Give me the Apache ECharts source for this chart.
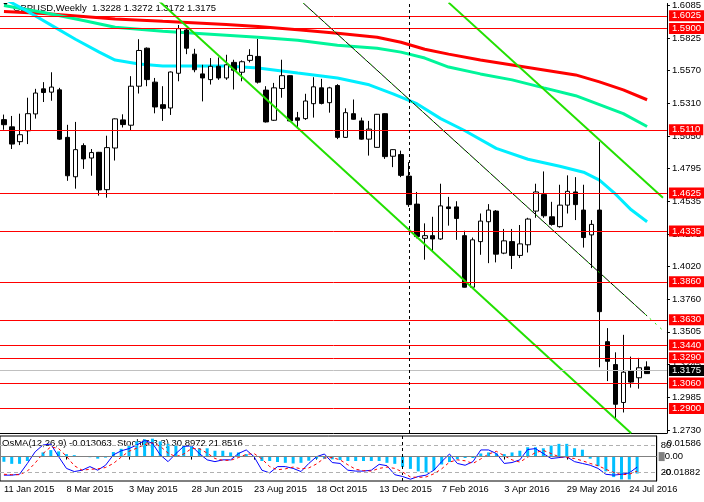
<!DOCTYPE html>
<html><head><meta charset="utf-8">
<script src="https://cdn.jsdelivr.net/npm/echarts@6/dist/echarts.min.js"></script>
<style>html,body{margin:0;padding:0;background:#fff}#c{width:704px;height:502px}</style>
</head><body><div id="c"></div>
<script>
const FONT = 'Liberation Sans';
// weekly categories (84 slots, 82 candles)
const MON = ['Jan','Feb','Mar','Apr','May','Jun','Jul','Aug','Sep','Oct','Nov','Dec'];
const categories = [];
for (let i = 0; i < 84; i++) {
  const d = new Date(Date.UTC(2015, 0, 11) + i * 7 * 86400000);
  categories.push(d.getUTCDate() + ' ' + MON[d.getUTCMonth()] + ' ' + d.getUTCFullYear());
}
const xTickLabels = ['11 Jan 2015','8 Mar 2015','3 May 2015','28 Jun 2015','23 Aug 2015','18 Oct 2015','13 Dec 2015','7 Feb 2016','3 Apr 2016','29 May 2016','24 Jul 2016'];
const yTicks = [1.2730,1.2985,1.3245,1.3505,1.3760,1.4020,1.4275,1.4535,1.4795,1.5050,1.5310,1.5570,1.5825,1.6085];

const opens = [1.5180,1.5123,1.5006,1.5092,1.5225,1.5423,1.5397,1.5415,1.5040,1.4729,
1.4975,1.4877,1.4922,1.4627,1.4956,1.5178,1.5136,1.5444,1.5744,1.5476,
1.5298,1.5272,1.5546,1.5888,1.5697,1.5541,1.5496,1.5601,1.5509,1.5632,
1.5554,1.5648,1.5679,1.5413,1.5175,1.5426,1.5527,1.5194,1.5188,1.5306,
1.5431,1.5314,1.5449,1.5040,1.5227,1.5170,1.5026,1.4961,1.5227,1.4891,
1.4904,1.4734,1.4513,1.4243,1.4264,1.4238,1.4491,1.4491,1.4264,1.3857,
1.4217,1.4374,1.4458,1.4126,1.4217,1.4108,1.4192,1.4458,1.4588,1.4413,
1.4335,1.4505,1.4609,1.4466,1.4270,1.4466,1.3427,1.3246,1.2947,1.3199,
1.3142,1.3228];
const highs = [1.5220,1.5209,1.5227,1.5353,1.5423,1.5476,1.5554,1.5431,1.5139,1.5162,
1.4993,1.4948,1.4925,1.5053,1.5190,1.5222,1.5523,1.5815,1.5750,1.5509,
1.5444,1.5560,1.5927,1.5901,1.5739,1.5613,1.5666,1.5671,1.5692,1.5653,
1.5648,1.5736,1.5817,1.5444,1.5470,1.5653,1.5530,1.5241,1.5384,1.5515,
1.5502,1.5439,1.5460,1.5269,1.5339,1.5196,1.5170,1.5225,1.5230,1.4946,
1.4935,1.4844,1.4609,1.4361,1.4413,1.4674,1.4570,1.4536,1.4303,1.4249,
1.4439,1.4513,1.4466,1.4317,1.4317,1.4348,1.4405,1.4674,1.4771,1.4531,
1.4666,1.4740,1.4726,1.4666,1.4387,1.5006,1.3534,1.3343,1.3481,1.3309,
1.3299,1.3272];
const lows = [1.5100,1.4948,1.4979,1.4987,1.5188,1.5319,1.5329,1.5020,1.4697,1.4635,
1.4791,1.4737,1.4580,1.4564,1.4857,1.5118,1.5092,1.5386,1.5444,1.5230,
1.5170,1.5217,1.5483,1.5697,1.5554,1.5324,1.5457,1.5494,1.5494,1.5418,
1.5483,1.5632,1.5465,1.5157,1.5170,1.5353,1.5165,1.5118,1.5178,1.5196,
1.5300,1.5235,1.5026,1.5036,1.5180,1.5022,1.4896,1.4958,1.4870,1.4805,
1.4726,1.4491,1.4243,1.4074,1.4139,1.4231,1.4343,1.4231,1.3855,1.3850,
1.4113,1.4047,1.4053,1.4118,1.4001,1.4087,1.4131,1.4405,1.4405,1.4343,
1.4327,1.4439,1.4387,1.4170,1.4008,1.3225,1.3116,1.2813,1.2868,1.3064,
1.3056,1.3172];
const closes = [1.5140,1.4987,1.5061,1.5227,1.5390,1.5394,1.5437,1.5026,1.4737,1.4943,
1.4870,1.4920,1.4625,1.4959,1.5186,1.5141,1.5444,1.5726,1.5496,1.5280,
1.5269,1.5556,1.5898,1.5744,1.5574,1.5509,1.5601,1.5509,1.5613,1.5570,
1.5637,1.5687,1.5476,1.5162,1.5431,1.5527,1.5170,1.5175,1.5327,1.5439,
1.5308,1.5431,1.5040,1.5235,1.5183,1.5026,1.5105,1.5222,1.4888,1.4943,
1.4740,1.4509,1.4257,1.4264,1.4238,1.4499,1.4478,1.4400,1.3857,1.4231,
1.4379,1.4466,1.4118,1.4223,1.4108,1.4199,1.4395,1.4609,1.4421,1.4353,
1.4505,1.4614,1.4509,1.4249,1.4353,1.3664,1.3272,1.2933,1.3186,1.3108,
1.3221,1.3175];

// moving averages [weekIndex, price]
const redMA = [[0,1.6034],[5,1.6018],[10,1.5995],[14,1.5975],[20,1.5956],[28,1.5932],[32,1.5916],[37,1.5889],[42,1.5862],[47,1.5830],[50,1.5791],[53,1.5736],[56,1.5697],[60,1.5650],[64,1.5611],[68,1.5572],[72,1.5533],[75,1.5478],[78,1.5415],[81,1.5337]];
const greenMA = [[0,1.6081],[5,1.6026],[10,1.5963],[14,1.5909],[20,1.5877],[28,1.5846],[32,1.5830],[37,1.5807],[42,1.5768],[47,1.5744],[50,1.5713],[53,1.5666],[56,1.5595],[60,1.5541],[64,1.5494],[68,1.5431],[72,1.5369],[75,1.5298],[78,1.5227],[81,1.5126]];
const cyanMA = [[0,1.6136],[3,1.6034],[6,1.5924],[9,1.5815],[12,1.5713],[14,1.5650],[17,1.5619],[20,1.5603],[25,1.5603],[28,1.5603],[32,1.5588],[37,1.5548],[42,1.5509],[46,1.5455],[49,1.5384],[52,1.5306],[55,1.5188],[58,1.5094],[62,1.4953],[66,1.4867],[70,1.4812],[73,1.4765],[75,1.4703],[77,1.4593],[79,1.4468],[81,1.4374]];

// trend lines
const lowerChannel = [[19,1.6147],[79,1.2704]];
const upperChannel = [[56,1.6104],[83,1.4564]];
const blackTrend = [[37,1.6140],[81,1.3630]];
const dottedTrend = [[37,1.6140],[83,1.3516]];

const levels = [1.6025,1.5900,1.5110,1.4625,1.4335,1.3860,1.3630,1.3440,1.3290,1.3060,1.2900];
const lastPrice = 1.3175;
const separatorIndex = 51;

const osma = [-0.0040,-0.0056,-0.0056,-0.0034,0.0003,0.0032,0.0050,0.0040,0.0019,0.0011,
-0.0003,-0.0005,-0.0016,-0.0008,0.0035,0.0060,0.0090,0.0117,0.0133,0.0138,
0.0117,0.0098,0.0090,0.0085,0.0077,0.0064,0.0064,0.0045,0.0045,0.0032,
0.0032,0.0019,0.0000,-0.0034,-0.0034,-0.0042,-0.0048,-0.0053,-0.0048,-0.0032,
-0.0016,-0.0016,-0.0021,-0.0027,-0.0034,-0.0034,-0.0034,-0.0034,-0.0034,-0.0048,
-0.0056,-0.0080,-0.0095,-0.0114,-0.0122,-0.0106,-0.0061,-0.0042,-0.0021,-0.0011,
-0.0011,0.0024,0.0032,0.0024,0.0019,0.0032,0.0045,0.0072,0.0072,0.0064,
0.0085,0.0098,0.0098,0.0064,0.0053,-0.0016,-0.0074,-0.0114,-0.0158,-0.0176,
-0.0176,-0.013063];
const stochMain = [13,13,15,39,65,80,82,54,28,21,
24,32,24,35,58,67,72,80,90,84,
58,43,61,77,78,61,47,43,47,47,
61,69,54,24,18,32,32,28,21,39,
54,60,41,39,24,22,22,24,37,34,
14,10,4,10,13,24,43,60,39,35,
43,69,69,61,39,41,47,70,72,61,
50,52,54,43,39,35,28,15,13,15,
18,30.8972];
const stochSignal = [15,14,14,22,40,61,76,72,55,34,
24,26,27,30,39,53,66,73,81,85,
77,62,54,60,72,72,62,50,46,46,
52,59,61,49,32,25,27,31,27,29,
38,51,52,47,36,26,23,22,28,31,
28,20,9,8,9,16,27,42,47,45,
39,49,60,66,56,47,42,53,63,68,
61,54,52,50,45,39,34,26,19,14,
15,21.8516];
const osmaLabels = {top: 0.01586, bottom: -0.01882};

const candleData = opens.map((o, i) => [o, closes[i], lows[i], highs[i]]);

const chart = echarts.init(document.getElementById('c'), null, {renderer: 'canvas'});
const fs = 9.5;
const tickShown = (idx) => idx % 8 === 0 && idx / 8 < xTickLabels.length;

const levelMarks = levels.map(v => ({
  yAxis: v,
  lineStyle: {color: '#ff0000', width: 1, type: 'solid'},
  label: {show: true, position: 'end', distance: 2, formatter: () => v.toFixed(4),
    backgroundColor: '#ff0000', color: '#ffffff', fontSize: fs, fontFamily: FONT,
    padding: [1, 3, 0, 3], lineHeight: 10}
}));
levelMarks.push({
  yAxis: lastPrice,
  lineStyle: {color: '#c0c0c0', width: 1, type: 'solid'},
  label: {show: true, position: 'end', distance: 2, formatter: () => lastPrice.toFixed(4),
    backgroundColor: '#000000', color: '#ffffff', fontSize: fs, fontFamily: FONT,
    padding: [1, 3, 0, 3], lineHeight: 10}
});
levelMarks.push({
  xAxis: categories[separatorIndex],
  lineStyle: {color: '#000', width: 1, type: [3, 3]},
  label: {show: false}
});

function lineSeries(data, color, width, z, type) {
  return {type: 'line', xAxisIndex: 0, yAxisIndex: 0, data: data, showSymbol: false, symbol: 'none',
    smooth: false, z: z, silent: true,
    lineStyle: {color: color, width: width, type: type || 'solid'}};
}

const option = {
  animation: false,
  backgroundColor: '#ffffff',
  textStyle: {fontFamily: FONT},
  title: [
    {text: '\u25BC', left: 2, top: 2, padding: 0, z: 0, textStyle: {fontSize: 7, color: '#000', fontWeight: 'normal'}},
    {text: 'GBPUSD,Weekly  1.3228 1.3272 1.3172 1.3175', left: 13, top: 3, padding: 0, z: 0,
      textStyle: {fontSize: fs, color: '#000', fontWeight: 'normal', fontFamily: FONT}},
    {text: 'OsMA(12,26,9) -0.013063  Stoch(5,3,3) 30.8972 21.8516', left: 2, top: 438, padding: 0, z: 0,
      textStyle: {fontSize: fs, color: '#000', fontWeight: 'normal', fontFamily: FONT}}
  ],
  grid: [
    {left: -6, right: 37, top: 0, height: 433},
    {left: -6, right: 37, top: 436, height: 45, show: true, borderColor: '#000', borderWidth: 1, backgroundColor: 'transparent'}
  ],
  xAxis: [
    {type: 'category', gridIndex: 0, data: categories, boundaryGap: true,
      axisLine: {show: true, lineStyle: {color: '#000', width: 1}}, axisTick: {show: false},
      axisLabel: {show: false}, splitLine: {show: false}},
    {type: 'category', gridIndex: 1, data: categories, boundaryGap: true,
      axisLine: {show: true, lineStyle: {color: '#000', width: 1}},
      axisTick: {show: true, interval: tickShown, alignWithLabel: true, length: 3, lineStyle: {color: '#000'}},
      axisLabel: {show: true, interval: tickShown, align: 'left', margin: 4, fontSize: 9.3, color: '#000', fontFamily: FONT,
        formatter: (v, idx) => xTickLabels[idx / 8] || ''},
      splitLine: {show: false}}
  ],
  yAxis: [
    {type: 'value', gridIndex: 0, position: 'right', min: 1.2706, max: 1.6097, scale: true,
      axisLine: {show: true, lineStyle: {color: '#000', width: 1}},
      axisTick: {show: true, customValues: yTicks, length: 3, lineStyle: {color: '#000'}},
      axisLabel: {show: true, customValues: yTicks, formatter: v => v.toFixed(4), margin: 5,
        fontSize: fs, color: '#000', fontFamily: FONT},
      splitLine: {show: false}},
    {type: 'value', gridIndex: 1, position: 'right', min: osmaLabels.bottom, max: osmaLabels.top,
      axisLine: {show: true, lineStyle: {color: '#000'}}, axisTick: {show: false},
      axisLabel: {show: true, customValues: [osmaLabels.bottom, 0, osmaLabels.top], margin: 2,
        fontSize: fs, color: '#000', fontFamily: FONT,
        formatter: v => v > 0.005 ? '{t|' + osmaLabels.top.toFixed(5) + '}' : (v < -0.005 ? '{b|' + osmaLabels.bottom.toFixed(5) + '}' : '{g| }{z|0.00}'),
        rich: {
          t: {padding: [14, 0, 0, 8], fontSize: fs, fontFamily: FONT, color: '#000'},
          b: {padding: [0, 0, 18, 4], fontSize: fs, fontFamily: FONT, color: '#000'},
          g: {backgroundColor: '#808080', width: 6, height: 9},
          z: {fontSize: fs, fontFamily: FONT, color: '#000'}
        }},
      splitLine: {show: false}},
    {type: 'value', gridIndex: 1, position: 'right', min: 0, max: 100,
      axisLine: {show: false}, axisTick: {show: false},
      axisLabel: {show: true, customValues: [20, 80], margin: 4, fontSize: fs, color: '#000', fontFamily: FONT},
      splitLine: {show: false}}
  ],
  series: [
    lineSeries(redMA, '#ff0000', 3, 2),
    lineSeries(greenMA, '#00f59a', 3, 2),
    lineSeries(cyanMA, '#00eeff', 3, 2),
    {type: 'candlestick', xAxisIndex: 0, yAxisIndex: 0, data: candleData, barWidth: 5, z: 3, silent: true,
      itemStyle: {color: '#ffffff', color0: '#000000', borderColor: '#000000', borderColor0: '#000000', borderWidth: 1}},
    lineSeries(lowerChannel, '#22e000', 2, 4),
    lineSeries(upperChannel, '#22e000', 2, 4),
    lineSeries(blackTrend, '#000000', 1, 4),
    lineSeries(dottedTrend, '#22e000', 1, 5, [2, 5]),
    {type: 'line', xAxisIndex: 0, yAxisIndex: 0, data: [], z: 6, silent: true,
      markLine: {silent: true, symbol: ['none', 'none'], animation: false, data: levelMarks}},
    {type: 'bar', xAxisIndex: 1, yAxisIndex: 1, data: osma, barWidth: 3, z: 2, silent: true,
      itemStyle: {color: '#00bfff'},
      markLine: {silent: true, symbol: ['none', 'none'], animation: false, label: {show: false},
        data: [
          {yAxis: 0, lineStyle: {color: '#808080', width: 1, type: 'solid'}},
          {xAxis: categories[separatorIndex], lineStyle: {color: '#000', width: 1, type: [3, 3]}}
        ]}},
    {type: 'line', xAxisIndex: 1, yAxisIndex: 2, data: stochMain, showSymbol: false, symbol: 'none', z: 4, silent: true,
      lineStyle: {color: '#0000ff', width: 1},
      markLine: {silent: true, symbol: ['none', 'none'], animation: false, label: {show: false},
        data: [
          {yAxis: 80, lineStyle: {color: '#b0b0b0', width: 1, type: [4, 3]}},
          {yAxis: 20, lineStyle: {color: '#b0b0b0', width: 1, type: [4, 3]}}
        ]}},
    {type: 'line', xAxisIndex: 1, yAxisIndex: 2, data: stochSignal, showSymbol: false, symbol: 'none', z: 4, silent: true,
      lineStyle: {color: '#ff0000', width: 1, type: [3, 3]}}
  ]
};
chart.setOption(option);
</script></body></html>
